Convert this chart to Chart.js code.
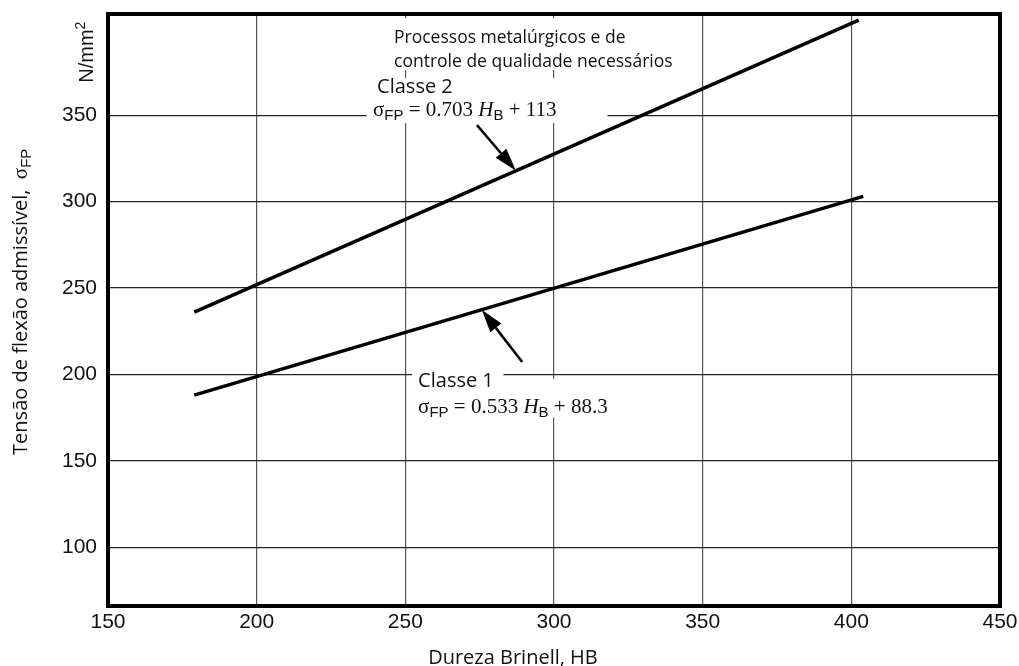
<!DOCTYPE html>
<html lang="pt">
<head>
<meta charset="utf-8">
<title>Tensão de flexão admissível × Dureza Brinell</title>
<script src="https://cdn.jsdelivr.net/npm/chart.js@4.4.1/dist/chart.umd.min.js"></script>
<style>
  html, body { margin: 0; padding: 0; background: #fff; }
  #wrap { width: 1019px; height: 666px; position: relative; }
</style>
</head>
<body>
<div id="wrap"><canvas id="chart"></canvas></div>
<script>
// Tensão de flexão admissível σFP x dureza Brinell HB, classes 1 e 2
const xTicks = [150, 200, 250, 300, 350, 400, 450];
const yTicks = [100, 150, 200, 250, 300, 350];

const classe1Hb = [179, 404];
const classe1Sigma = [188, 303];
const classe2Hb = [179, 402.5];
const classe2Sigma = [236, 405];

const SANS = "'Open Sans', sans-serif";
const ARIAL = "'Liberation Sans', Arial, sans-serif";
const SERIF = "'Liberation Serif', 'Times New Roman', serif";
const INK = "#111";

// fundos brancos atrás dos textos (unidades dos eixos)
const masks = [
  { x0: 243, x1: 342.5, y0: 376, y1: 406 },
  { x0: 237, x1: 318, y0: 345.4, y1: 371.4 },
  { x0: 252.3, x1: 283, y0: 198, y1: 205 },
  { x0: 252.3, x1: 319.5, y0: 175, y1: 197.4 }
];

const formula = (a, b) => [
  ["σ", `21px ${SERIF}`, 0],
  ["FP", `15px ${ARIAL}`, 4],
  [` = ${a} `, `21px ${SERIF}`, 0],
  ["H", `italic 21px ${SERIF}`, 0],
  ["B", `15px ${ARIAL}`, 4],
  [` + ${b}`, `21px ${SERIF}`, 0]
];

const notes = [
  { hb: 246.2, sigma: 391.6, parts: [["Processos metalúrgicos e de", `17.5px ${SANS}`, 0]] },
  { hb: 246.2, sigma: 377.7, parts: [["controle de qualidade necessários", `17.5px ${SANS}`, 0]] },
  { hb: 240.5, sigma: 362.7, parts: [["Classe 2", `20px ${SANS}`, 0]] },
  { hb: 239.1, sigma: 349.4, parts: formula("0.703", "113") },
  { hb: 254.3, sigma: 192.8, parts: [["Classe 1", `20px ${SANS}`, 0]] },
  { hb: 254.3, sigma: 177.7, parts: formula("0.533", "88.3") }
];

const arrows = [
  { dataset: 1, tipHb: 287.2, tailHb: 274.1, tailSigma: 344.2 },
  { dataset: 0, tipHb: 275.7, tailHb: 289.3, tailSigma: 207.2 }
];

function toPoints(xs, ys) {
  return xs.map((x, i) => ({ x, y: ys[i] }));
}

function richWidth(ctx, parts) {
  return parts.reduce((w, [text, font]) => {
    ctx.font = font;
    return w + ctx.measureText(text).width;
  }, 0);
}

function drawRich(ctx, x, y, parts) {
  let cursor = x;
  parts.forEach(([text, font, dy]) => {
    ctx.font = font;
    ctx.fillText(text, cursor, y + dy);
    cursor += ctx.measureText(text).width;
  });
}

function sigmaAt(points, hb) {
  const [a, b] = points;
  return a.y + (b.y - a.y) * (hb - a.x) / (b.x - a.x);
}

function drawArrow(ctx, fromX, fromY, toX, toY) {
  const angle = Math.atan2(toY - fromY, toX - fromX);
  const head = 23, half = 7;
  const baseX = toX - head * Math.cos(angle), baseY = toY - head * Math.sin(angle);
  ctx.beginPath();
  ctx.moveTo(fromX, fromY);
  ctx.lineTo(baseX, baseY);
  ctx.lineWidth = 2.5;
  ctx.stroke();
  ctx.beginPath();
  ctx.moveTo(toX, toY);
  ctx.lineTo(baseX + half * Math.sin(angle), baseY - half * Math.cos(angle));
  ctx.lineTo(baseX - half * Math.sin(angle), baseY + half * Math.cos(angle));
  ctx.closePath();
  ctx.fill();
}

const annotations = {
  id: "annotations",
  beforeDatasetsDraw(chart) {
    const { ctx, chartArea: area, scales: { x, y } } = chart;
    ctx.save();
    ctx.fillStyle = "#fff";
    masks.forEach((m) => {
      const left = x.getPixelForValue(m.x0), right = x.getPixelForValue(m.x1);
      const top = y.getPixelForValue(m.y1), bottom = y.getPixelForValue(m.y0);
      ctx.fillRect(left, top, right - left, bottom - top);
    });
    ctx.strokeStyle = "#000";
    ctx.lineWidth = 4;
    ctx.strokeRect(area.left, area.top, area.right - area.left, area.bottom - area.top);
    ctx.restore();
  },
  afterDatasetsDraw(chart) {
    const { ctx, chartArea: area, scales: { x, y } } = chart;
    ctx.save();
    ctx.fillStyle = INK;
    ctx.strokeStyle = "#000";
    ctx.textBaseline = "alphabetic";
    ctx.textAlign = "left";

    notes.forEach((n) => drawRich(ctx, x.getPixelForValue(n.hb), y.getPixelForValue(n.sigma), n.parts));

    ctx.fillStyle = "#000";
    arrows.forEach((a) => {
      const points = chart.data.datasets[a.dataset].data;
      const tipX = x.getPixelForValue(a.tipHb);
      const tipY = y.getPixelForValue(sigmaAt(points, a.tipHb));
      drawArrow(ctx, x.getPixelForValue(a.tailHb), y.getPixelForValue(a.tailSigma), tipX, tipY);
    });

    ctx.fillStyle = INK;

    // título do eixo x
    ctx.font = `20px ${SANS}`;
    ctx.textAlign = "center";
    ctx.textBaseline = "middle";
    ctx.fillText("Dureza Brinell, HB", x.getPixelForValue(286.2), area.bottom + 52);
    ctx.textAlign = "left";
    ctx.textBaseline = "alphabetic";

    // título do eixo y, girado, com subscrito
    const title = [["Tensão de flexão admissível,  ", `20px ${SANS}`, 0], ["σ", `21px ${SERIF}`, 0], ["FP", `15px ${ARIAL}`, 4]];
    ctx.save();
    ctx.translate(27, y.getPixelForValue(242));
    ctx.rotate(-Math.PI / 2);
    drawRich(ctx, -richWidth(ctx, title) / 2, 0, title);
    ctx.restore();

    // unidade no topo do eixo y
    const unit = [["N/mm", `20px ${ARIAL}`, 0], ["2", `14px ${ARIAL}`, -8]];
    ctx.save();
    ctx.translate(area.left - 15, y.getPixelForValue(386.4));
    ctx.rotate(-Math.PI / 2);
    drawRich(ctx, -richWidth(ctx, unit) / 2, 0, unit);
    ctx.restore();

    ctx.restore();
  }
};

const lineStyle = { borderColor: "#000", borderWidth: 3.5, pointRadius: 0, tension: 0, borderCapStyle: "butt", fill: false };

new Chart(document.getElementById("chart"), {
  type: "line",
  data: {
    datasets: [
      { label: "Classe 1", data: toPoints(classe1Hb, classe1Sigma), ...lineStyle },
      { label: "Classe 2", data: toPoints(classe2Hb, classe2Sigma), ...lineStyle }
    ]
  },
  options: {
    responsive: true,
    maintainAspectRatio: false,
    animation: false,
    layout: { padding: { top: 14, right: 19, left: 0, bottom: 0 } },
    plugins: { legend: { display: false }, tooltip: { enabled: false } },
    scales: {
      x: {
        type: "linear",
        min: 150,
        max: 450,
        afterBuildTicks: (scale) => { scale.ticks = xTicks.map((value) => ({ value })); },
        afterFit: (scale) => {
          scale.height = 60;
          scale.paddingLeft = 0;
          scale.paddingRight = 0;
        },
        grid: { color: "#555", lineWidth: 1.2, drawTicks: false },
        border: { display: false },
        ticks: { color: INK, padding: 4, maxRotation: 0, font: { family: ARIAL, size: 21 } }
      },
      y: {
        type: "linear",
        min: 66,
        max: 408.5,
        afterBuildTicks: (scale) => { scale.ticks = yTicks.map((value) => ({ value })); },
        afterFit: (scale) => {
          scale.width = 108;
          scale.paddingTop = 0;
          scale.paddingBottom = 0;
        },
        grid: { color: "#222", lineWidth: 1.2, drawTicks: false },
        border: { display: false },
        ticks: { color: INK, padding: 11, font: { family: ARIAL, size: 21 } }
      }
    }
  },
  plugins: [annotations]
});
</script>
</body>
</html>
